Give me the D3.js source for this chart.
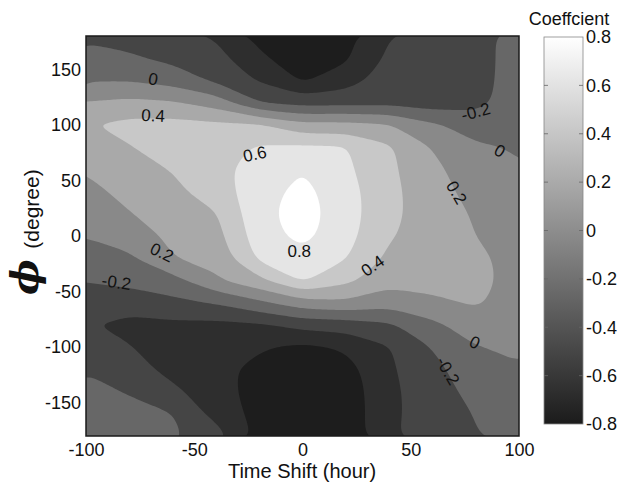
<!DOCTYPE html>
<html>
<head>
<meta charset="utf-8">
<script src="https://cdn.jsdelivr.net/npm/d3@7"></script>
<style>
  body { margin: 0; background: #fff; }
  text { font-family: Arial, "Liberation Sans", sans-serif; }
</style>
</head>
<body>
<svg id="chart" width="635" height="482"></svg>
<script>
// grid of the correlation map
const timeShift = [-100, -80, -60, -40, -20, 0, 20, 40, 60, 80, 100];
const phiDeg = [180, 160, 140, 120, 100, 80, 60, 40, 20, 0, -20, -40, -60, -80, -100, -120, -140, -160, -180];

// one row per phi (top to bottom), one value per time shift
const coeff = [
  [-0.24, -0.28, -0.34, -0.42, -0.66, -0.78, -0.66, -0.41, -0.32, -0.25, -0.14],
  [-0.12, -0.17, -0.25, -0.33, -0.56, -0.72, -0.63, -0.36, -0.31, -0.26, -0.13],
  [-0.01, -0.01, -0.08, -0.23, -0.42, -0.62, -0.49, -0.29, -0.30, -0.27, -0.11],
  [ 0.21,  0.25,  0.22,  0.11, -0.19, -0.27, -0.26, -0.25, -0.30, -0.26, -0.09],
  [ 0.38,  0.46,  0.47,  0.44,  0.41,  0.26,  0.26,  0.21,  0.03, -0.09, -0.06],
  [ 0.33,  0.39,  0.50,  0.52,  0.62,  0.63,  0.61,  0.43,  0.19,  0.03, -0.02],
  [ 0.22,  0.33,  0.41,  0.54,  0.69,  0.79,  0.64,  0.44,  0.25,  0.08,  0.02],
  [ 0.14,  0.26,  0.35,  0.50,  0.72,  0.86,  0.68,  0.45,  0.29,  0.12,  0.06],
  [ 0.07,  0.19,  0.30,  0.39,  0.74,  0.89,  0.69,  0.45,  0.30,  0.18,  0.10],
  [ 0.01,  0.08,  0.25,  0.33,  0.71,  0.86,  0.67,  0.42,  0.31,  0.20,  0.13],
  [-0.10, -0.03,  0.19,  0.26,  0.64,  0.73,  0.61,  0.36,  0.30,  0.23,  0.15],
  [-0.19, -0.14, -0.07,  0.17,  0.35,  0.62,  0.45,  0.27,  0.27,  0.24,  0.15],
  [-0.30, -0.32, -0.25, -0.18, -0.04,  0.12,  0.16,  0.08,  0.16,  0.22,  0.13],
  [-0.38, -0.45, -0.44, -0.45, -0.42, -0.33, -0.30, -0.23, -0.05,  0.12,  0.09],
  [-0.32, -0.39, -0.50, -0.52, -0.58, -0.64, -0.57, -0.41, -0.19, -0.01,  0.04],
  [-0.21, -0.30, -0.47, -0.55, -0.65, -0.70, -0.68, -0.43, -0.26, -0.07, -0.02],
  [-0.16, -0.21, -0.35, -0.53, -0.67, -0.74, -0.72, -0.44, -0.30, -0.13, -0.07],
  [-0.12, -0.16, -0.20, -0.47, -0.67, -0.76, -0.73, -0.44, -0.31, -0.19, -0.11],
  [-0.08, -0.12, -0.17, -0.30, -0.66, -0.77, -0.73, -0.43, -0.30, -0.21, -0.13]
];

const levels = [-0.6, -0.4, -0.2, 0, 0.2, 0.4, 0.6, 0.8];
const bandColors = ["#1d1d1d", "#2e2e2e", "#454545", "#676767", "#898989", "#a9a9a9", "#c8c8c8", "#e5e5e5", "#ffffff"];

const xTicks = [-100, -50, 0, 50, 100];
const yTicks = [-150, -100, -50, 0, 50, 100, 150];
const cbarTicks = [-0.8, -0.6, -0.4, -0.2, 0, 0.2, 0.4, 0.6, 0.8];

// inline contour labels: text, time, phi, rotation
const contourLabels = [
  { text: "0", t: -69, phi: 141, angle: 10 },
  { text: "0.4", t: -69, phi: 108, angle: 3 },
  { text: "0.6", t: -22, phi: 73.5, angle: -12 },
  { text: "0.8", t: -1.5, phi: -13.5, angle: 0 },
  { text: "0.4", t: 32.5, phi: -27, angle: -35 },
  { text: "0.2", t: -65, phi: -15, angle: 25 },
  { text: "-0.2", t: -86, phi: -42, angle: 8 },
  { text: "-0.2", t: 80, phi: 111.5, angle: -15 },
  { text: "0", t: 91, phi: 76.5, angle: 30 },
  { text: "0.2", t: 71, phi: 39, angle: 60 },
  { text: "0", t: 79.5, phi: -96, angle: 25 },
  { text: "-0.2", t: 67, phi: -121.5, angle: 60 }
];

const svg = d3.select("#chart");
const margin = { top: 36, left: 86, bottom: 46, right: 116 };
const width = 635 - margin.left - margin.right;
const height = 482 - margin.top - margin.bottom;

const x = d3.scaleLinear().domain([-100, 100]).range([margin.left, margin.left + width]);
const y = d3.scaleLinear().domain([-180, 180]).range([margin.top + height, margin.top]);

// d3.contours puts value i at grid coordinate i + 0.5
const nx = timeShift.length;
const ny = phiDeg.length;
const gx = d3.scaleLinear().domain([0.5, nx - 0.5]).range([x(timeShift[0]), x(timeShift[nx - 1])]);
const gy = d3.scaleLinear().domain([0.5, ny - 0.5]).range([y(phiDeg[0]), y(phiDeg[ny - 1])]);

const contours = d3.contours().size([nx, ny]).thresholds(levels)(coeff.flat());

// the marching-squares rings are angular on a coarse grid: resample them in
// pixels and blur along the ring (points on the grid border stay put)
const onBorder = p => p[0] <= 0 || p[0] >= nx || p[1] <= 0 || p[1] >= ny;
const step = 2;
const sigma = 9;

function smoothRing(ring) {
  const src = ring.slice(0, -1).map(p => ({ x: gx(p[0]), y: gy(p[1]), fixed: onBorder(p) }));
  const n0 = src.length;
  const pts = [];
  for (let i = 0; i < n0; i++) {
    const a = src[i], b = src[(i + 1) % n0];
    const len = Math.hypot(b.x - a.x, b.y - a.y);
    const steps = Math.max(1, Math.ceil(len / step));
    pts.push(a);
    for (let s = 1; s < steps; s++) {
      const f = s / steps;
      pts.push({ x: a.x + f * (b.x - a.x), y: a.y + f * (b.y - a.y), fixed: a.fixed && b.fixed });
    }
  }
  const n = pts.length;
  const half = Math.min(Math.floor(n / 2) - 1, Math.ceil(3 * sigma / step));
  if (half < 1) return pts;
  const w = d3.range(-half, half + 1).map(k => Math.exp(-((k * step) ** 2) / (2 * sigma * sigma)));
  const wSum = d3.sum(w);
  return pts.map((p, i) => {
    if (p.fixed) return p;
    let sx = 0, sy = 0;
    for (let k = -half; k <= half; k++) {
      const q = pts[(i + k + n) % n];
      sx += w[k + half] * q.x;
      sy += w[k + half] * q.y;
    }
    return { x: sx / wSum, y: sy / wSum };
  });
}

const line = d3.line().x(p => p.x).y(p => p.y).curve(d3.curveLinearClosed);

const bandPath = c => c.coordinates
  .map(poly => poly.map(ring => line(smoothRing(ring))).join(""))
  .join("");

svg.append("clipPath").attr("id", "plotClip")
  .append("rect")
  .attr("x", margin.left).attr("y", margin.top)
  .attr("width", width).attr("height", height);

const plot = svg.append("g").attr("clip-path", "url(#plotClip)");

plot.append("rect")
  .attr("x", margin.left).attr("y", margin.top)
  .attr("width", width).attr("height", height)
  .attr("fill", bandColors[0]);

plot.selectAll("path.band")
  .data(contours)
  .join("path")
  .attr("class", "band")
  .attr("d", bandPath)
  .attr("fill-rule", "evenodd")
  .attr("fill", (c, i) => bandColors[i + 1]);

// contour labels
plot.selectAll("text.clabel")
  .data(contourLabels)
  .join("text")
  .attr("class", "clabel")
  .attr("transform", d => `translate(${x(d.t)},${y(d.phi)}) rotate(${d.angle})`)
  .attr("text-anchor", "middle")
  .attr("dominant-baseline", "central")
  .attr("font-size", 17)
  .attr("fill", "#111")
  .text(d => d.text);

// frame
svg.append("rect")
  .attr("x", margin.left).attr("y", margin.top)
  .attr("width", width).attr("height", height)
  .attr("fill", "none")
  .attr("stroke", "#1a1a1a")
  .attr("stroke-width", 1.5);

// axes
const xAxis = svg.append("g")
  .attr("transform", `translate(0,${margin.top + height})`)
  .call(d3.axisBottom(x).tickValues(xTicks).tickSize(0).tickPadding(7).tickFormat(d => String(d)));
const yAxis = svg.append("g")
  .attr("transform", `translate(${margin.left},0)`)
  .call(d3.axisLeft(y).tickValues(yTicks).tickSize(0).tickPadding(5).tickFormat(d => String(d)));

[xAxis, yAxis].forEach(a => {
  a.select(".domain").remove();
  a.attr("font-size", 18).attr("font-family", "Arial, 'Liberation Sans', sans-serif");
  a.selectAll("text").attr("fill", "#111");
});

svg.append("text")
  .attr("x", 302).attr("y", 478)
  .attr("text-anchor", "middle")
  .attr("font-size", 20)
  .attr("fill", "#111")
  .text("Time Shift (hour)");

svg.append("text")
  .attr("transform", "translate(39,209) rotate(-90)")
  .attr("text-anchor", "middle")
  .attr("font-size", 21)
  .attr("fill", "#111")
  .text("(degree)");

svg.append("text")
  .attr("transform", "translate(38,277) rotate(-90)")
  .attr("text-anchor", "middle")
  .attr("font-size", 38)
  .attr("font-style", "italic")
  .attr("font-weight", "bold")
  .style("font-family", "'DejaVu Serif', 'Liberation Serif', serif")
  .attr("fill", "#111")
  .text("\u03D5");

// colorbar
const cb = { x: 544, w: 39, top: 37, bottom: 424 };
const cy = d3.scaleLinear().domain([-0.8, 0.8]).range([cb.bottom, cb.top]);
const cbColor = d3.scaleLinear().domain([-0.8, 0.8]).range(["#1b1b1b", "#ffffff"]);

const grad = svg.append("defs").append("linearGradient")
  .attr("id", "cbGrad")
  .attr("x1", 0).attr("y1", 1).attr("x2", 0).attr("y2", 0);
grad.selectAll("stop")
  .data(cbarTicks)
  .join("stop")
  .attr("offset", d => (d + 0.8) / 1.6)
  .attr("stop-color", d => cbColor(d));

svg.append("rect")
  .attr("x", cb.x).attr("y", cb.top)
  .attr("width", cb.w).attr("height", cb.bottom - cb.top)
  .attr("fill", "url(#cbGrad)")
  .attr("stroke", "#888")
  .attr("stroke-width", 0.8);

const cbTickMarks = svg.append("g").attr("stroke", "#666").attr("stroke-width", 0.8);
cbTickMarks.selectAll("line.l")
  .data(cbarTicks.slice(1, -1))
  .join("line")
  .attr("class", "l")
  .attr("x1", cb.x).attr("x2", cb.x + 4)
  .attr("y1", d => cy(d)).attr("y2", d => cy(d));
cbTickMarks.selectAll("line.r")
  .data(cbarTicks.slice(1, -1))
  .join("line")
  .attr("class", "r")
  .attr("x1", cb.x + cb.w - 4).attr("x2", cb.x + cb.w)
  .attr("y1", d => cy(d)).attr("y2", d => cy(d));

const cAxis = svg.append("g")
  .attr("transform", `translate(${cb.x + cb.w},0)`)
  .call(d3.axisRight(cy).tickValues(cbarTicks).tickSize(0).tickPadding(3).tickFormat(d => String(d)));
cAxis.select(".domain").remove();
cAxis.attr("font-size", 18).attr("font-family", "Arial, 'Liberation Sans', sans-serif");
cAxis.selectAll("text").attr("fill", "#111");

svg.append("text")
  .attr("x", 569).attr("y", 25)
  .attr("text-anchor", "middle")
  .attr("font-size", 18)
  .attr("fill", "#111")
  .text("Coeffcient");
</script>
</body>
</html>
